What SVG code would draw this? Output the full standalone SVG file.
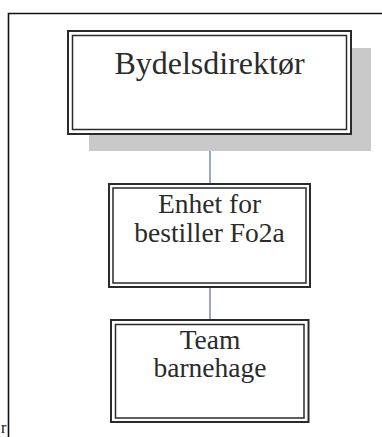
<svg xmlns="http://www.w3.org/2000/svg" width="382" height="437" viewBox="0 0 382 437">
  <style>
    .frame { fill: none; stroke: #111; stroke-width: 1.6; }
    .outer { fill: #fff; stroke: #2a2a2a; stroke-width: 2; }
    .inner { fill: none; stroke: #2a2a2a; stroke-width: 1.5; }
    .shadow { fill: #c9c9c9; }
    .label { font-family: "Liberation Serif", "Times New Roman", serif; fill: #2b2b2b; text-anchor: middle; }
    .link { stroke: #5b6ea6; stroke-width: 1.2; fill: none; }
  </style>

  <rect width="382" height="437" fill="#fff"/>

  <!-- page frame -->
  <path class="frame" d="M8.5,437 V13.5 H382"/>
  <text x="1" y="433" font-family="Liberation Serif, serif" font-size="16" fill="#111">r</text>

  <!-- connectors -->
  <g id="connectors">
    <line class="link" x1="210" y1="134" x2="210" y2="184"/>
    <line class="link" x1="210" y1="287" x2="210" y2="320"/>
  </g>

  <!-- top node -->
  <g id="node-bydelsdirektor">
    <rect class="shadow" x="89" y="48" width="282" height="103"/>
    <rect class="outer" x="68" y="31" width="283" height="103"/>
    <rect class="inner" x="72.5" y="35.5" width="274" height="94"/>
    <text class="label" x="209.5" y="74" font-size="32">Bydelsdirektør</text>
  </g>

  <!-- middle node -->
  <g id="node-enhet">
    <rect class="outer" x="109" y="184" width="201" height="103"/>
    <rect class="inner" x="113" y="188" width="193" height="95"/>
    <text class="label" x="209.5" y="213" font-size="27.5">Enhet for</text>
    <text class="label" x="209.5" y="241.5" font-size="27.5">bestiller Fo2a</text>
  </g>

  <!-- bottom node -->
  <g id="node-team">
    <rect class="outer" x="111" y="320" width="197.5" height="102"/>
    <rect class="inner" x="115.5" y="324.5" width="188.5" height="93.5"/>
    <text class="label" x="210" y="349" font-size="27.5">Team</text>
    <text class="label" x="210" y="377" font-size="27.5">barnehage</text>
  </g>
</svg>
